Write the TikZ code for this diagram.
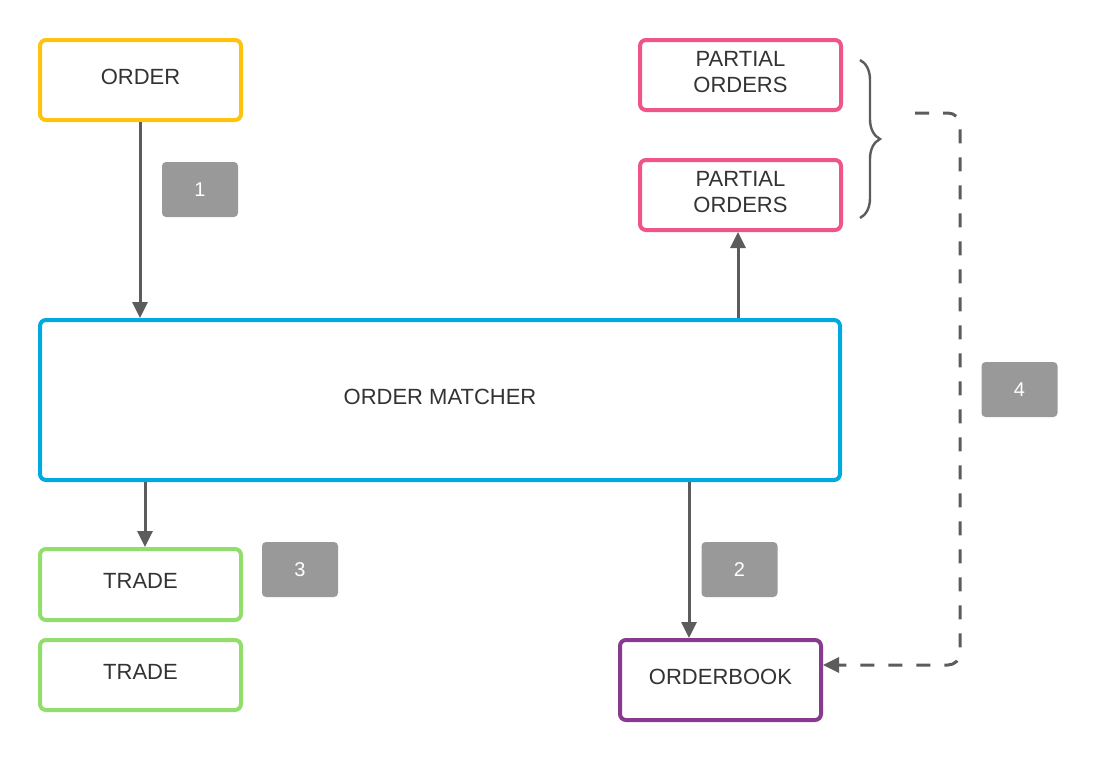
\documentclass[tikz,border=0pt]{standalone}
\usepackage{fontspec}
\setmainfont{Liberation Sans}
\usetikzlibrary{arrows.meta,decorations.pathreplacing}
\definecolor{cyel}{HTML}{FFC20E}
\definecolor{cpink}{HTML}{EF5587}
\definecolor{cblue}{HTML}{00A9E0}
\definecolor{cgreen}{HTML}{93DD6C}
\definecolor{cpurp}{HTML}{883B8E}
\definecolor{cline}{HTML}{5C5C5C}
\definecolor{clab}{HTML}{999999}
\definecolor{ctext}{HTML}{333333}
\tikzset{
  box/.style={draw, line width=2pt, rounded corners=3pt, fill=white, text=ctext, font=\fontsize{11}{13}\selectfont, align=center, inner sep=0pt, text depth=3.5pt},
  lab/.style={fill=clab, rounded corners=2pt, text=white, minimum width=38pt, minimum height=27.5pt, inner sep=0pt, font=\fontsize{10}{12}\selectfont},
  conn/.style={draw=cline, line width=1.5pt, -{Triangle[length=8pt,width=7.5pt]}},
}
\begin{document}
\begin{tikzpicture}[x=0.5pt,y=-0.5pt]
\useasboundingbox (0,0) rectangle (1100,760);
% boxes
\node[box, draw=cyel, minimum width=100.5pt, minimum height=40pt] (order) at (140.5,80) {ORDER};
\node[box, draw=cpink, minimum width=100.5pt, minimum height=35pt] (po1) at (740.5,75) {PARTIAL\\ORDERS};
\node[box, draw=cpink, minimum width=100.5pt, minimum height=35pt] (po2) at (740.5,195) {PARTIAL\\ORDERS};
\node[box, draw=cblue, minimum width=400pt, minimum height=80pt] (om) at (440,400) {ORDER MATCHER};
\node[box, draw=cgreen, minimum width=100.5pt, minimum height=35.5pt] (t1) at (140.5,584.5) {TRADE};
\node[box, draw=cgreen, minimum width=100.5pt, minimum height=35pt] (t2) at (140.5,675) {TRADE};
\node[box, draw=cpurp, minimum width=100.5pt, minimum height=40pt] (ob) at (720.5,680) {ORDERBOOK};
% labels
\node[lab] (l1) at (200,189.5) {1};
\node[lab] (l2) at (739.5,569.5) {2};
\node[lab] (l3) at (300,569.5) {3};
\node[lab] (l4) at (1019.5,389.5) {4};
% connectors
\draw[conn] (order.south -| 140,0) -- (om.north -| 140,0);
\draw[conn] (om.north -| 738,0) -- (po2.south -| 738,0);
\draw[conn] (om.south -| 145,0) -- (t1.north -| 145,0);
\draw[conn] (om.south -| 689,0) -- (ob.north -| 689,0);
% brace
\coordinate (bt) at (860,60);
\coordinate (bb) at (860,218);
\draw[cline, line width=1.2pt, decorate, decoration={brace, amplitude=10pt, raise=0pt}] (bt) -- (bb);
% dashed
\coordinate (ds) at (915,113);
\draw[conn, dash pattern=on 7pt off 7pt, rounded corners=6pt] (ds) -- (960,113) -- (960,665) -- (ob.east |- 0,665);
\end{tikzpicture}
\end{document}
